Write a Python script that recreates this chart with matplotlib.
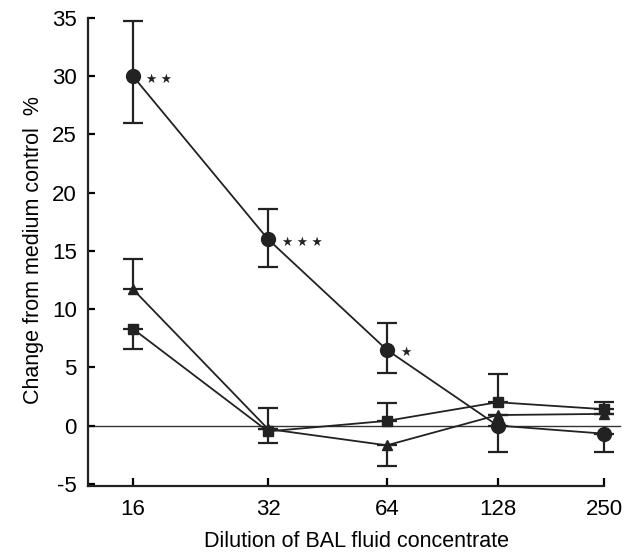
import numpy as np
import matplotlib
matplotlib.use("Agg")
import matplotlib.pyplot as plt

plt.rcParams['font.family'] = ['Liberation Sans', 'DejaVu Sans']
plt.rcParams['axes.unicode_minus'] = False

# dilution categories
dilutions = ['16', '32', '64', '128', '250']
xpos = [0, 1, 1.88, 2.70, 3.49]   # hand-drawn spacing of the original

# circles
circ = [30.0, 16.0, 6.5, 0.0, -0.7]
circ_lo = [4.0, 2.4, 2.0, 2.3, 1.6]
circ_hi = [4.7, 2.6, 2.3, 0.0, 0.0]
# triangles
tri = [11.7, -0.3, -1.7, 0.9, 1.0]
tri_lo = [0.0, 0.0, 1.8, 0.0, 0.0]
tri_hi = [2.6, 0.0, 0.0, 0.0, 0.0]
# squares
sq = [8.3, -0.5, 0.4, 2.0, 1.4]
sq_lo = [1.7, 1.0, 0.0, 0.0, 0.0]
sq_hi = [0.0, 2.0, 1.5, 2.4, 0.6]

stars = {0: '\u2605 \u2605', 1: '\u2605 \u2605 \u2605', 2: '\u2605'}

fig = plt.figure(figsize=(6.31, 5.53), dpi=100)
ax = fig.add_axes([0.1395, 0.121, 0.851, 0.852])

ax.axhline(0, color='#333333', lw=1.0, xmax=0.99, zorder=1)

for y, lo, hi, m in [(sq, sq_lo, sq_hi, 's'), (tri, tri_lo, tri_hi, '^'), (circ, circ_lo, circ_hi, 'o')]:
    ax.errorbar(xpos, y, yerr=[lo, hi], fmt='none', ecolor='#222222',
                elinewidth=1.6, capsize=7, capthick=1.6, zorder=2)
    ms = 10 if m == 'o' else 7.5
    ax.plot(xpos, y, color='#222222', lw=1.3, marker=m, ms=ms,
            mfc='#222222', mec='#222222', zorder=3)

for i, s in stars.items():
    ax.text(xpos[i] + 0.1, circ[i] - 0.3, s, fontsize=9, va='center', ha='left', color='#222222')

ax.set_xlim(-0.333, 3.644)
ax.set_ylim(-5.2, 35.26)
ax.set_yticks(np.arange(-5, 36, 5))
ax.set_xticks(xpos)
ax.set_xticklabels(dilutions)
ax.spines['left'].set_bounds(-5.2, 35)
ax.spines['bottom'].set_bounds(-0.333, xpos[-1])
for s in ['left', 'bottom']:
    ax.spines[s].set_linewidth(1.6)
    ax.spines[s].set_color('#222222')
for s in ['top', 'right']:
    ax.spines[s].set_visible(False)
ax.tick_params(axis='y', direction='in', length=5, width=1.6, labelsize=16, pad=8)
ax.tick_params(axis='x', direction='in', length=6, width=1.6, labelsize=16, pad=9)

ax.set_ylabel('Change from medium control  %', fontsize=15.5, labelpad=6)
ax.set_xlabel('Dilution of BAL fluid concentrate', fontsize=15.5, labelpad=8)

fig.savefig('out.png', dpi=100)
